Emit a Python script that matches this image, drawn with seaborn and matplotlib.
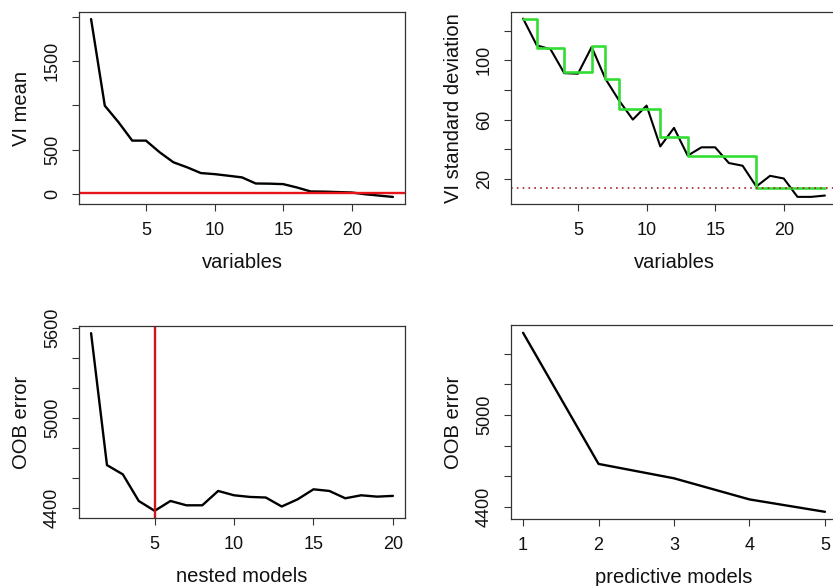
import numpy as np
import matplotlib
matplotlib.use('Agg')
import matplotlib.pyplot as plt
import seaborn as sns

# VI mean per variable (sorted)
var_idx = np.arange(1, 24)
vi_mean = [1977, 997, 810, 602, 602, 470, 357, 300, 235, 223, 205, 186, 117,
           115, 110, 72, 27, 25, 20, 15, -5, -20, -35]
vi_mean_thres = 12

# VI standard deviation + CART fit (green steps)
vi_sd = [128.2, 110.1, 107.5, 91.4, 91.0, 109.0, 87.6, 72.9, 60.1, 69.5, 42.0,
         54.5, 35.8, 41.4, 41.4, 30.8, 29.0, 15.0, 22.2, 20.4, 8.0, 8.0, 8.9]
sd_pred = [128.2, 108.5, 108.5, 92.1, 92.1, 109.7, 87.6, 67.3, 67.3, 67.3, 48.6,
           48.6, 35.8, 35.8, 35.8, 35.8, 35.8, 13.9, 13.9, 13.9, 13.9, 13.9, 13.9]
sd_thres = 13.9

# nested models OOB error
nested_idx = np.arange(1, 21)
oob_nested = [5567, 4684, 4622, 4444, 4378, 4444, 4415, 4415, 4511, 4482,
              4471, 4467, 4407, 4455, 4522, 4511, 4462, 4482, 4473, 4478]
best_nested = 5

# predictive models OOB error
pred_idx = np.arange(1, 6)
oob_pred = [5537, 4680, 4586, 4448, 4367]

sns.set_theme(style="ticks")
plt.rcParams['font.family'] = ['Liberation Sans', 'DejaVu Sans']

W, H = 833, 586
fig = plt.figure(figsize=(W / 100, H / 100), dpi=100)
fig.patch.set_facecolor('white')


def make_ax(left, top, right, bottom):
    return fig.add_axes([left / W, (H - bottom) / H, (right - left) / W, (bottom - top) / H])


def style(ax, xlabel, ylabel, yticks, ylabels, xticks):
    ax.set_facecolor('white')
    for s in ax.spines.values():
        s.set_visible(True)
        s.set_color('#333333')
        s.set_linewidth(0.9)
    ax.set_xticks(xticks)
    ax.set_xticklabels([str(t) for t in xticks])
    ax.set_yticks(yticks)
    ax.set_yticklabels(ylabels, rotation=90, va='center')
    ax.tick_params(direction='out', length=5, width=0.8, color='#333333',
                   labelsize=13, pad=8, labelcolor='#111111')
    ax.set_xlabel(xlabel, fontsize=14.5, labelpad=10, color='#111111')
    ax.set_ylabel(ylabel, fontsize=14.5, labelpad=9, color='#111111')
    ax.grid(False)


# top-left
ax1 = make_ax(79, 12, 405, 204)
sns.lineplot(x=var_idx, y=vi_mean, ax=ax1, color='black', linewidth=1.7)
ax1.axhline(vi_mean_thres, color='#e8141c', linewidth=1.7)
ax1.set_xlim(0.12, 23.88)
ax1.set_ylim(-115, 2057)
style(ax1, 'variables', 'VI mean', [0, 500, 1000, 1500, 2000],
      ['0', '500', '', '1500', ''], [5, 10, 15, 20])

# top-right
ax2 = make_ax(511, 12, 837, 204)
sns.lineplot(x=var_idx, y=vi_sd, ax=ax2, color='black', linewidth=1.5)
sns.lineplot(x=var_idx, y=sd_pred, ax=ax2, color='#33dd33', linewidth=1.9,
             drawstyle='steps-post')
ax2.axhline(sd_thres, color='#a8242a', linewidth=1.2, linestyle=(0, (1, 2.5)))
ax2.set_xlim(0.12, 23.88)
ax2.set_ylim(3.2, 132.6)
style(ax2, 'variables', 'VI standard deviation', [20, 40, 60, 80, 100, 120],
      ['20', '', '60', '', '100', ''], [5, 10, 15, 20])

# bottom-left
ax3 = make_ax(79, 326, 405, 518)
sns.lineplot(x=nested_idx, y=oob_nested, ax=ax3, color='black', linewidth=1.7)
ax3.axvline(best_nested, color='#d0141c', linewidth=1.7)
ax3.set_xlim(0.24, 20.76)
ax3.set_ylim(4330, 5615)
style(ax3, 'nested models', 'OOB error', [4400, 4600, 4800, 5000, 5200, 5400, 5600],
      ['4400', '', '', '5000', '', '', '5600'], [5, 10, 15, 20])

# bottom-right
ax4 = make_ax(511, 325, 837, 519)
sns.lineplot(x=pred_idx, y=oob_pred, ax=ax4, color='black', linewidth=1.7)
ax4.set_xlim(0.84, 5.16)
ax4.set_ylim(4320, 5588)
style(ax4, 'predictive models', 'OOB error', [4400, 4600, 4800, 5000, 5200, 5400],
      ['4400', '', '', '5000', '', ''], [1, 2, 3, 4, 5])

fig.savefig('out.png', dpi=100, facecolor='white')
